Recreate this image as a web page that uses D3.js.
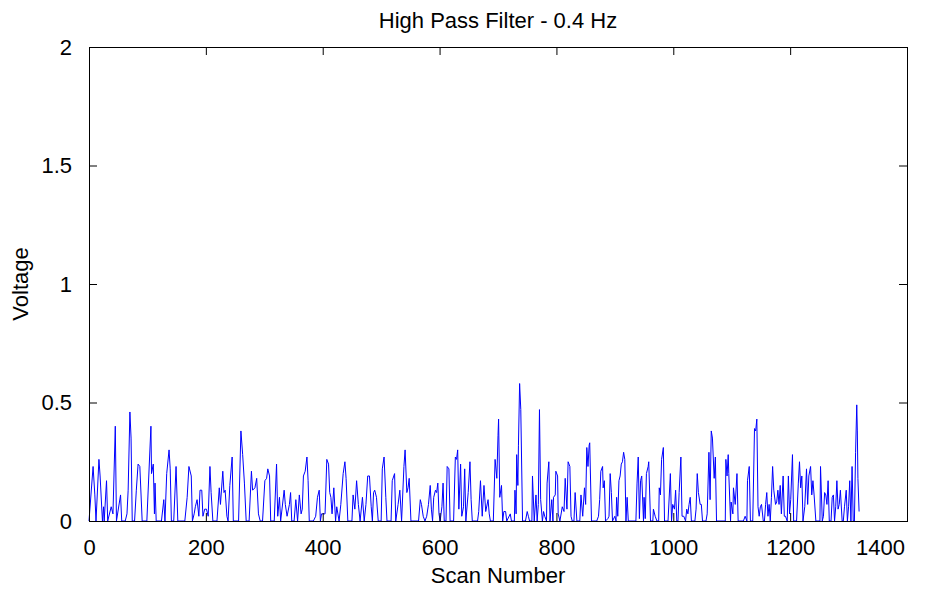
<!DOCTYPE html>
<html>
<head>
<meta charset="utf-8">
<script src="https://cdn.jsdelivr.net/npm/d3@7"></script>
<style>
  body { margin: 0; background: #fff; }
  text { font-family: Arial, "Liberation Sans", sans-serif; fill: #000; }
</style>
</head>
<body>
<div id="viz"></div>
<script>
// scan number / voltage pairs (peaks and troughs)
const scan = [
  0, 7, 10, 12, 17, 19, 23, 25, 26, 30, 32, 38, 41, 45, 47, 54, 56, 62, 65, 67,
  70, 72, 74, 78, 81, 84, 87, 91, 99, 106, 107, 110, 112, 113, 115, 124, 128, 130, 133, 137,
  139, 141, 145, 149, 152, 164, 168, 171, 175, 177, 180, 182, 185, 188, 190, 193, 195, 198, 201, 204,
  207, 209, 212, 219, 223, 225, 229, 231, 233, 236, 238, 241, 245, 247, 256, 260, 263, 266, 269, 274,
  278, 280, 284, 287, 290, 293, 297, 301, 304, 306, 309, 311, 317, 321, 323, 326, 328, 334, 336, 339,
  343, 345, 347, 351, 354, 357, 360, 363, 365, 367, 370, 373, 375, 377, 384, 388, 391, 394, 396, 398,
  404, 407, 410, 412, 414, 416, 419, 422, 424, 428, 431, 435, 438, 440, 443, 450, 452, 455, 458, 461,
  464, 468, 471, 474, 477, 480, 483, 485, 487, 489, 492, 495, 500, 502, 505, 508, 510, 517, 519, 523,
  525, 529, 532, 535, 539, 541, 544, 546, 548, 551, 564, 567, 569, 572, 575, 578, 581, 584, 586, 588,
  590, 593, 595, 597, 599, 601, 604, 606, 608, 611, 613, 616, 618, 624, 627, 629, 631, 633, 636, 638,
  641, 643, 645, 649, 652, 654, 656, 665, 667, 670, 673, 676, 679, 683, 685, 687, 692, 695, 698, 700,
  701, 703, 706, 708, 710, 713, 715, 721, 723, 728, 729, 731, 732, 734, 735, 737, 739, 742, 747, 750,
  752, 754, 758, 759, 762, 765, 767, 769, 771, 773, 776, 778, 780, 783, 784, 787, 789, 792, 794, 795,
  798, 799, 802, 803, 806, 810, 813, 815, 818, 820, 823, 825, 827, 830, 832, 835, 840, 842, 845, 848,
  850, 852, 854, 856, 857, 860, 869, 872, 874, 876, 879, 880, 882, 884, 888, 890, 892, 894, 896, 900,
  902, 903, 905, 907, 909, 911, 913, 915, 917, 919, 921, 923, 936, 938, 940, 942, 944, 946, 949, 950,
  952, 954, 957, 958, 961, 965, 966, 969, 972, 975, 976, 978, 980, 983, 985, 991, 995, 997, 999, 1002,
  1004, 1006, 1008, 1010, 1013, 1015, 1018, 1021, 1023, 1025, 1027, 1029, 1031, 1037, 1039, 1041, 1043, 1046, 1048, 1050,
  1056, 1058, 1061, 1063, 1065, 1067, 1070, 1072, 1074, 1089, 1090, 1092, 1094, 1095, 1098, 1099, 1102, 1103, 1106, 1109,
  1111, 1120, 1123, 1126, 1127, 1130, 1132, 1136, 1139, 1141, 1143, 1145, 1147, 1149, 1151, 1154, 1156, 1158, 1160, 1162,
  1164, 1166, 1168, 1170, 1172, 1175, 1177, 1179, 1181, 1183, 1185, 1188, 1190, 1192, 1195, 1197, 1199, 1201, 1204, 1206,
  1211, 1214, 1216, 1218, 1220, 1222, 1225, 1228, 1230, 1232, 1235, 1237, 1239, 1241, 1244, 1251, 1252, 1255, 1257, 1259,
  1261, 1263, 1265, 1267, 1270, 1272, 1274, 1276, 1278, 1280, 1282, 1284, 1286, 1289, 1291, 1293, 1296, 1298, 1300, 1302,
  1304, 1306, 1308, 1310, 1312, 1314, 1315, 1316, 1318
];
const voltage = [
  0, 0.23, 0.11, 0, 0.26, 0.19, 0, 0.06, 0, 0.17, 0, 0.06, 0.03, 0.40, 0, 0.11, 0, 0, 0.03, 0.13,
  0.46, 0.35, 0, 0, 0.13, 0.24, 0.23, 0, 0, 0.40, 0.20, 0.24, 0.03, 0.16, 0, 0, 0.09, 0, 0.20, 0.30,
  0.22, 0, 0, 0.23, 0, 0, 0.10, 0.23, 0.19, 0, 0.03, 0.06, 0.09, 0.02, 0.13, 0.13, 0.02, 0.05, 0.05, 0.02,
  0.23, 0.12, 0, 0, 0.14, 0.07, 0.21, 0.12, 0.13, 0.02, 0, 0.15, 0.27, 0, 0, 0.38, 0.28, 0.16, 0, 0,
  0.21, 0.13, 0.14, 0.18, 0.03, 0, 0, 0.17, 0.18, 0.22, 0.19, 0, 0, 0.24, 0.02, 0.10, 0, 0.13, 0.07, 0.02,
  0.07, 0.12, 0, 0, 0.09, 0, 0.11, 0.03, 0.05, 0.19, 0.21, 0.27, 0.17, 0, 0, 0.02, 0.10, 0.13, 0, 0.03,
  0.03, 0.26, 0.24, 0.12, 0.10, 0.03, 0.14, 0, 0.06, 0, 0.07, 0.20, 0.25, 0.18, 0, 0, 0.11, 0.05, 0.17, 0.07,
  0, 0.10, 0, 0.07, 0.19, 0.19, 0.06, 0, 0.12, 0.13, 0.10, 0, 0, 0.22, 0.27, 0.10, 0, 0, 0.17, 0.20,
  0, 0.07, 0.13, 0, 0.23, 0.30, 0.12, 0.14, 0.18, 0, 0, 0.09, 0.07, 0.02, 0, 0.02, 0.07, 0.15, 0.05, 0,
  0.10, 0.13, 0.12, 0.16, 0.03, 0, 0.06, 0.16, 0, 0, 0.23, 0.22, 0, 0, 0.27, 0.26, 0.30, 0.05, 0.24, 0.02,
  0.06, 0.22, 0, 0.12, 0.25, 0.09, 0, 0, 0.04, 0.17, 0.02, 0.15, 0.04, 0.09, 0.03, 0, 0, 0.26, 0.18, 0.36,
  0.43, 0.10, 0.15, 0, 0.04, 0.04, 0, 0.03, 0, 0, 0.13, 0.03, 0.28, 0.15, 0.32, 0.58, 0.47, 0, 0, 0.04,
  0.02, 0, 0, 0.19, 0, 0.11, 0, 0.07, 0.47, 0.09, 0, 0.04, 0.02, 0, 0.16, 0.25, 0, 0.09, 0, 0.10,
  0.11, 0.21, 0.19, 0.03, 0, 0.06, 0.04, 0.18, 0.05, 0.25, 0.23, 0.02, 0, 0, 0.12, 0, 0, 0.11, 0.02, 0.14,
  0.07, 0.31, 0.23, 0.32, 0.33, 0, 0, 0.02, 0.09, 0.21, 0.23, 0.14, 0.17, 0, 0.01, 0.02, 0.20, 0.12, 0, 0.02,
  0, 0.10, 0.02, 0.17, 0.19, 0.24, 0.25, 0.29, 0.26, 0, 0.10, 0, 0, 0.16, 0.27, 0.01, 0.17, 0.19, 0, 0.10,
  0.01, 0.20, 0.23, 0.25, 0, 0, 0.05, 0.02, 0, 0, 0.14, 0.11, 0.26, 0.31, 0, 0, 0.20, 0, 0.07, 0.05,
  0.13, 0, 0, 0.12, 0.27, 0.02, 0.02, 0, 0.05, 0.03, 0.07, 0.10, 0, 0, 0.05, 0.20, 0.12, 0.07, 0.07, 0,
  0, 0.03, 0.29, 0.09, 0.38, 0.35, 0.18, 0.27, 0, 0, 0.26, 0.19, 0.28, 0.20, 0, 0.08, 0.03, 0.14, 0.07, 0.20,
  0, 0, 0.02, 0, 0.17, 0.23, 0, 0, 0.39, 0.38, 0.43, 0.06, 0.02, 0.06, 0.07, 0, 0, 0.07, 0.12, 0.02,
  0.07, 0, 0.10, 0.23, 0.13, 0.07, 0.08, 0.13, 0.07, 0.15, 0.03, 0.19, 0.02, 0.02, 0, 0.19, 0.03, 0.09, 0.28, 0,
  0, 0.16, 0.25, 0.14, 0.19, 0, 0.06, 0.22, 0.07, 0.19, 0.23, 0.11, 0.17, 0.11, 0, 0, 0.23, 0, 0.02, 0.12,
  0.11, 0.07, 0.17, 0, 0, 0.10, 0.11, 0, 0.06, 0.17, 0.05, 0.07, 0.13, 0, 0, 0.06, 0.13, 0, 0.06, 0.17,
  0, 0.23, 0, 0, 0.29, 0.49, 0.38, 0.18, 0.04
];
const xTicks = [0, 200, 400, 600, 800, 1000, 1200, 1400];
const yTicks = [0, 0.5, 1, 1.5, 2];

const width = 938, height = 590;
const margin = { left: 89, right: 31, top: 47, bottom: 69 };
const fontSize = 22;

const svg = d3.select("#viz")
  .append("svg")
  .attr("width", width)
  .attr("height", height);

const x = d3.scaleLinear().domain([0, 1400]).range([margin.left, width - margin.right]);
const y = d3.scaleLinear().domain([0, 2]).range([height - margin.bottom, margin.top]);

// plot box
svg.append("rect")
  .attr("x", x(0)).attr("y", y(2))
  .attr("width", x(1400) - x(0)).attr("height", y(0) - y(2))
  .attr("fill", "#fff");

// the signal
const pts = scan.map((s, i) => [s, voltage[i]]);
svg.append("path")
  .datum(pts)
  .attr("fill", "none")
  .attr("stroke", "#0000ff")
  .attr("stroke-width", 1)
  .attr("stroke-linejoin", "miter")
  .attr("d", d3.line().x(d => x(d[0])).y(d => y(d[1])));

// axes, MATLAB style: ticks pointing inward on all four sides
const tick = 8;
const fmtY = d => d3.format("")(d);

svg.append("g")
  .attr("transform", `translate(0,${y(0)})`)
  .call(d3.axisBottom(x).tickValues(xTicks).tickSize(-tick).tickPadding(10 + tick).tickFormat(d3.format("d")))
  .call(g => g.select(".domain").remove())
  // MATLAB pulls the last label back inside the figure
  .call(g => g.selectAll(".tick text").filter(d => d === 1400).attr("dx", -27));

svg.append("g")
  .attr("transform", `translate(0,${y(2)})`)
  .call(d3.axisTop(x).tickValues(xTicks).tickSize(-tick).tickFormat(""))
  .call(g => g.select(".domain").remove());

svg.append("g")
  .attr("transform", `translate(${x(0)},0)`)
  .call(d3.axisLeft(y).tickValues(yTicks).tickSize(-tick).tickPadding(9 + tick).tickFormat(fmtY))
  .call(g => g.select(".domain").remove());

svg.append("g")
  .attr("transform", `translate(${x(1400)},0)`)
  .call(d3.axisRight(y).tickValues(yTicks).tickSize(-tick).tickFormat(""))
  .call(g => g.select(".domain").remove());

svg.selectAll(".tick line").attr("stroke", "#000").attr("stroke-width", 1);
svg.selectAll(".tick text")
  .attr("font-size", fontSize)
  .style("font-family", "Arial, 'Liberation Sans', sans-serif")
  .attr("fill", "#000");

svg.append("rect")
  .attr("x", x(0)).attr("y", y(2))
  .attr("width", x(1400) - x(0)).attr("height", y(0) - y(2))
  .attr("fill", "none")
  .attr("stroke", "#000")
  .attr("stroke-width", 1)
  .attr("shape-rendering", "crispEdges");

// titles
svg.append("text")
  .attr("x", (x(0) + x(1400)) / 2)
  .attr("y", 28)
  .attr("text-anchor", "middle")
  .attr("font-size", fontSize)
  .text("High Pass Filter - 0.4 Hz");

svg.append("text")
  .attr("x", (x(0) + x(1400)) / 2)
  .attr("y", 583)
  .attr("text-anchor", "middle")
  .attr("font-size", fontSize)
  .text("Scan Number");

svg.append("text")
  .attr("transform", `translate(28,${(y(0) + y(2)) / 2}) rotate(-90)`)
  .attr("text-anchor", "middle")
  .attr("font-size", fontSize)
  .text("Voltage");
</script>
</body>
</html>
